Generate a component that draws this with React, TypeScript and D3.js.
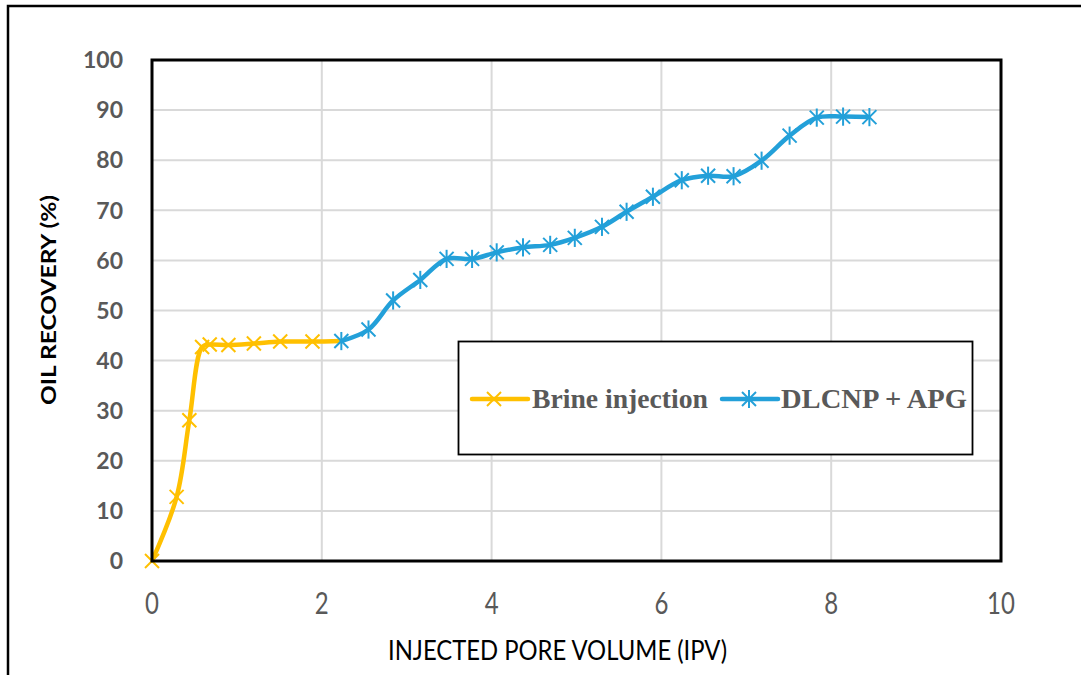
import React from "react";
import * as d3 from "d3";

const brineX = [0, 0.29, 0.44, 0.59, 0.68, 0.9, 1.2, 1.51, 1.89, 2.23];
const brineY = [0, 12.8, 28.1, 42.7, 43.2, 43.1, 43.4, 43.8, 43.8, 43.9];

const dlcnpX = [2.23, 2.55, 2.84, 3.16, 3.47, 3.77, 4.06, 4.37, 4.69, 4.98, 5.3, 5.59, 5.9, 6.24, 6.55, 6.85, 7.18, 7.51, 7.83, 8.14, 8.45];
const dlcnpY = [43.9, 46.2, 52.0, 56.1, 60.3, 60.3, 61.6, 62.6, 63.1, 64.5, 66.7, 69.7, 72.7, 76.0, 76.9, 76.8, 79.9, 84.9, 88.5, 88.7, 88.6];

const xTicks = [0, 2, 4, 6, 8, 10];
const yTicks = [0, 10, 20, 30, 40, 50, 60, 70, 80, 90, 100];

const seriesNames = ["Brine injection", "DLCNP + APG"];
const xTitle = "INJECTED PORE VOLUME (IPV)";
const yTitle = "OIL RECOVERY (%)";

const BRINE = "#FFC000";
const BLUE = "#23A0D9";

export default function App() {
  const left = 152, right = 1001, top = 60, bottom = 561;
  const x = d3.scaleLinear().domain([0, 10]).range([left, right]);
  const y = d3.scaleLinear().domain([0, 100]).range([bottom, top]);
  const line = d3
    .line<[number, number]>()
    .x((d) => x(d[0]))
    .y((d) => y(d[1]))
    .curve(d3.curveCatmullRom.alpha(0.5));

  const brine: [number, number][] = brineX.map((v, i) => [v, brineY[i]]);
  const dl: [number, number][] = dlcnpX.map((v, i) => [v, dlcnpY[i]]);
  const brineMarkers = brine.slice(0, brine.length - 1);

  const cross = (cx: number, cy: number, s: number, color: string, key: string) => (
    <g key={key} stroke={color} strokeWidth={2}>
      <line x1={cx - s} y1={cy - s} x2={cx + s} y2={cy + s} />
      <line x1={cx - s} y1={cy + s} x2={cx + s} y2={cy - s} />
    </g>
  );
  const star = (cx: number, cy: number, s: number, color: string, key: string) => (
    <g key={key} stroke={color} strokeWidth={2}>
      <line x1={cx - s} y1={cy - s} x2={cx + s} y2={cy + s} />
      <line x1={cx - s} y1={cy + s} x2={cx + s} y2={cy - s} />
      <line x1={cx} y1={cy - s * 1.3} x2={cx} y2={cy + s * 1.3} />
    </g>
  );

  return (
    <svg
      width={1081}
      height={675}
      style={{ position: "absolute", left: 0, top: 0, background: "#fff" }}
    >
      <rect x={0} y={0} width={1081} height={675} fill="#fff" />
      {/* outer border */}
      <rect x={8} y={6} width={1200} height={800} fill="none" stroke="#000" strokeWidth={2.5} />

      {/* gridlines */}
      {yTicks.map((t) => (
        <line key={"gy" + t} x1={left} x2={right} y1={y(t)} y2={y(t)} stroke="#D9D9D9" strokeWidth={2} />
      ))}
      {xTicks.map((t) => (
        <line key={"gx" + t} x1={x(t)} x2={x(t)} y1={top} y2={bottom} stroke="#D9D9D9" strokeWidth={2} />
      ))}

      {/* legend box */}
      <rect x={458.5} y={341.5} width={514} height={113} fill="#fff" stroke="#000" strokeWidth={1.8} />

      {/* series */}
      <path d={line(brine) || ""} fill="none" stroke={BRINE} strokeWidth={4.5} strokeLinejoin="round" />
      <path d={line(dl) || ""} fill="none" stroke={BLUE} strokeWidth={4.5} strokeLinejoin="round" />
      {brineMarkers.map((d, i) => cross(x(d[0]), y(d[1]), 7, BRINE, "bm" + i))}
      {dl.map((d, i) => star(x(d[0]), y(d[1]), 7, BLUE, "dm" + i))}

      {/* plot border */}
      <rect x={left} y={top} width={right - left} height={bottom - top} fill="none" stroke="#000" strokeWidth={3} />

      {/* y ticks */}
      {yTicks.map((t) => (
        <text
          key={"ty" + t}
          x={123}
          y={y(t)}
          dy="0.36em"
          textAnchor="end"
          fontFamily="Lato"
          fontWeight="bold"
          fontSize={23}
          fill="#595959"
        >
          {t}
        </text>
      ))}
      {/* x ticks */}
      {xTicks.map((t) => (
        <text
          key={"tx" + t}
          transform={`translate(${x(t)},614) scale(0.8,1)`}
          textAnchor="middle"
          fontFamily="Lato"
          fontSize={30}
          fill="#595959"
        >
          {t}
        </text>
      ))}

      {/* axis titles */}
      <text
        x={388}
        y={660}
        fontFamily="Lato"
        fontSize={27}
        fill="#000"
        textLength={339}
        lengthAdjust="spacingAndGlyphs"
      >
        {xTitle}
      </text>
      <text
        transform="translate(56,405) rotate(-90)"
        fontFamily="Lato"
        fontWeight="bold"
        fontSize={21}
        fill="#000"
        textLength={210}
        lengthAdjust="spacingAndGlyphs"
      >
        {yTitle}
      </text>

      {/* legend entries */}
      <line x1={472} x2={528} y1={399} y2={399} stroke={BRINE} strokeWidth={4.5} strokeLinecap="round" />
      {cross(494, 399, 7, BRINE, "lb")}
      <text
        x={532}
        y={408}
        fontFamily="Liberation Serif"
        fontWeight="bold"
        fontSize={28}
        fill="#595959"
        textLength={176}
        lengthAdjust="spacingAndGlyphs"
      >
        {seriesNames[0]}
      </text>
      <line x1={722} x2={778} y1={399} y2={399} stroke={BLUE} strokeWidth={4.5} strokeLinecap="round" />
      {star(749, 399, 7, BLUE, "ld")}
      <text
        x={781}
        y={408}
        fontFamily="Liberation Serif"
        fontWeight="bold"
        fontSize={28}
        fill="#595959"
        textLength={186}
        lengthAdjust="spacingAndGlyphs"
      >
        {seriesNames[1]}
      </text>
    </svg>
  );
}
